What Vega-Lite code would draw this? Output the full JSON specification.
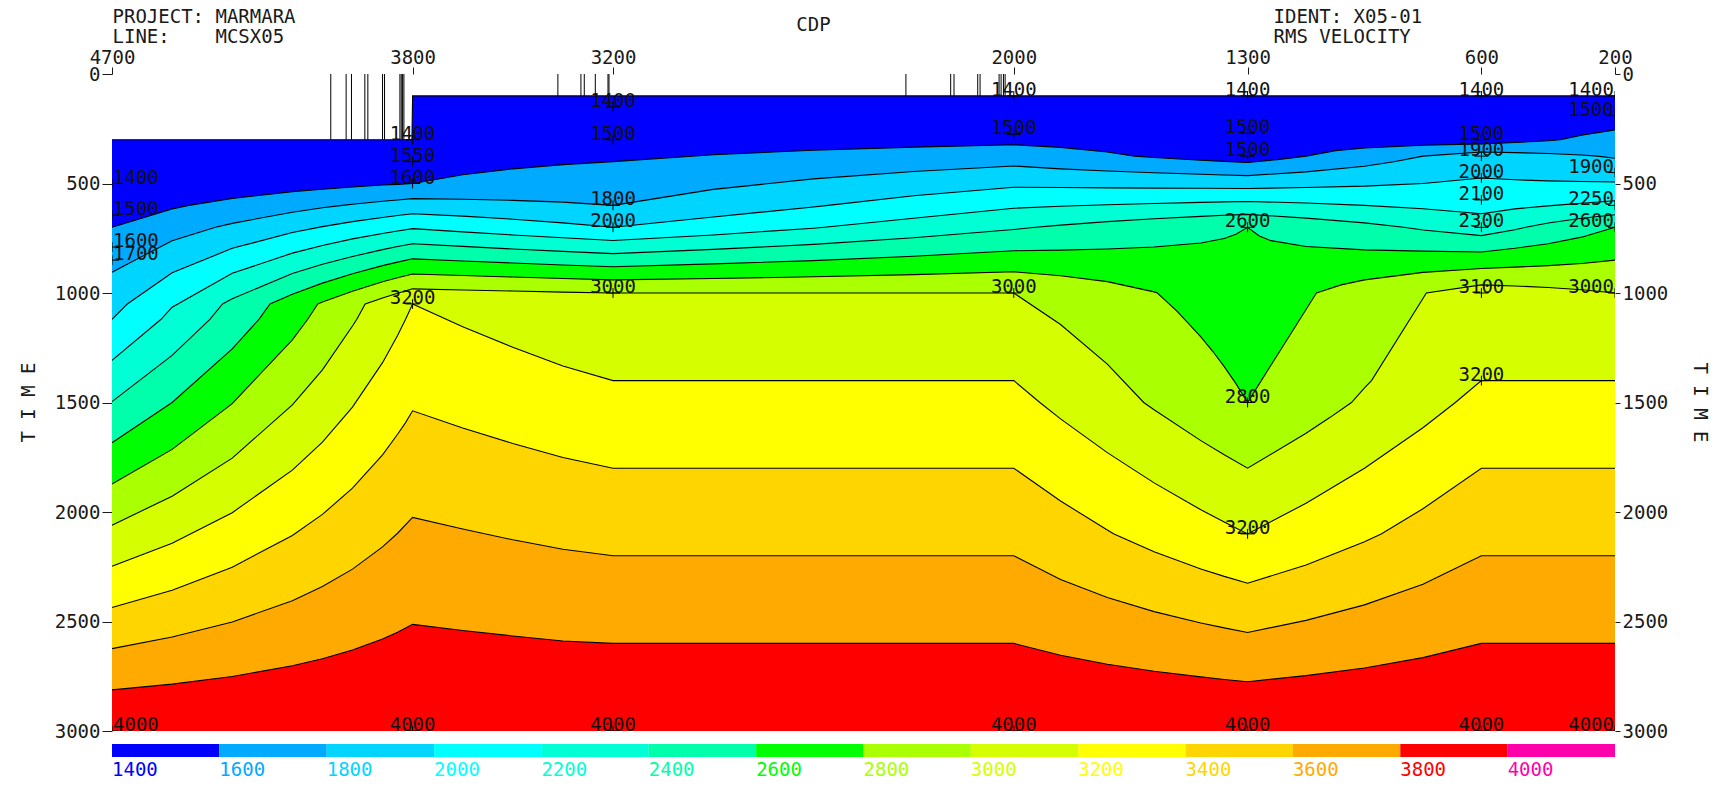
{
"$schema":"https://vega.github.io/schema/vega-lite/v6.json",
"width":1503,"height":657,
"autosize":"none",
"padding":{"left":112,"top":74,"right":116,"bottom":64},
"background":"white",
"config":{"view":{"stroke":null},
 "axis":{"labelFont":"DejaVu Sans Mono","labelFontSize":19,"labelColor":"#1a1a1a","titleFont":"DejaVu Sans Mono","titleFontSize":19,"titleFontWeight":"normal","titleColor":"#1a1a1a","tickColor":"#1a1a1a","grid":false,"domain":false},
 "text":{"font":"DejaVu Sans Mono","fontSize":19}},
"datasets":{
"contours":[
{"lvl":1400,"cdp":4700,"t":300},{"lvl":1400,"cdp":3802,"t":300},{"lvl":1400,"cdp":3800,"t":100},{"lvl":1400,"cdp":200,"t":100},
{"lvl":1600,"cdp":4700,"t":700},{"lvl":1600,"cdp":4520,"t":616},{"lvl":1600,"cdp":4470,"t":600},{"lvl":1600,"cdp":4340,"t":568},{"lvl":1600,"cdp":4160,"t":537},{"lvl":1600,"cdp":4070,"t":526},{"lvl":1600,"cdp":3980,"t":516},{"lvl":1600,"cdp":3890,"t":507},{"lvl":1600,"cdp":3845,"t":504},{"lvl":1600,"cdp":3800,"t":500},{"lvl":1600,"cdp":3650,"t":460},{"lvl":1600,"cdp":3500,"t":433},{"lvl":1600,"cdp":3350,"t":414},{"lvl":1600,"cdp":3200,"t":400},{"lvl":1600,"cdp":2900,"t":369},{"lvl":1600,"cdp":2600,"t":348},{"lvl":1600,"cdp":2300,"t":334},{"lvl":1600,"cdp":2000,"t":323},{"lvl":1600,"cdp":1860,"t":335},{"lvl":1600,"cdp":1720,"t":356},{"lvl":1600,"cdp":1638,"t":375},{"lvl":1600,"cdp":1580,"t":381},{"lvl":1600,"cdp":1440,"t":394},{"lvl":1600,"cdp":1370,"t":399},{"lvl":1600,"cdp":1300,"t":404},{"lvl":1600,"cdp":1212,"t":391},{"lvl":1600,"cdp":1125,"t":375},{"lvl":1600,"cdp":1037,"t":350},{"lvl":1600,"cdp":950,"t":338},{"lvl":1600,"cdp":775,"t":325},{"lvl":1600,"cdp":600,"t":319},{"lvl":1600,"cdp":500,"t":313},{"lvl":1600,"cdp":400,"t":305},{"lvl":1600,"cdp":364,"t":300},{"lvl":1600,"cdp":300,"t":279},{"lvl":1600,"cdp":200,"t":255},
{"lvl":1800,"cdp":4700,"t":905},{"lvl":1800,"cdp":4520,"t":761},{"lvl":1800,"cdp":4390,"t":700},{"lvl":1800,"cdp":4340,"t":682},{"lvl":1800,"cdp":4160,"t":631},{"lvl":1800,"cdp":4070,"t":611},{"lvl":1800,"cdp":4010,"t":600},{"lvl":1800,"cdp":3980,"t":595},{"lvl":1800,"cdp":3890,"t":581},{"lvl":1800,"cdp":3845,"t":575},{"lvl":1800,"cdp":3800,"t":569},{"lvl":1800,"cdp":3650,"t":572},{"lvl":1800,"cdp":3500,"t":577},{"lvl":1800,"cdp":3350,"t":585},{"lvl":1800,"cdp":3200,"t":600},{"lvl":1800,"cdp":2900,"t":527},{"lvl":1800,"cdp":2600,"t":479},{"lvl":1800,"cdp":2300,"t":445},{"lvl":1800,"cdp":2000,"t":420},{"lvl":1800,"cdp":1860,"t":433},{"lvl":1800,"cdp":1720,"t":443},{"lvl":1800,"cdp":1580,"t":451},{"lvl":1800,"cdp":1440,"t":458},{"lvl":1800,"cdp":1370,"t":461},{"lvl":1800,"cdp":1300,"t":464},{"lvl":1800,"cdp":1125,"t":447},{"lvl":1800,"cdp":950,"t":421},{"lvl":1800,"cdp":862,"t":401},{"lvl":1800,"cdp":775,"t":375},{"lvl":1800,"cdp":600,"t":356},{"lvl":1800,"cdp":500,"t":359},{"lvl":1800,"cdp":400,"t":363},{"lvl":1800,"cdp":300,"t":370},{"lvl":1800,"cdp":253,"t":375},{"lvl":1800,"cdp":200,"t":385},
{"lvl":2000,"cdp":4700,"t":1120},{"lvl":2000,"cdp":4654,"t":1050},{"lvl":2000,"cdp":4520,"t":908},{"lvl":2000,"cdp":4340,"t":796},{"lvl":2000,"cdp":4160,"t":724},{"lvl":2000,"cdp":4070,"t":697},{"lvl":2000,"cdp":3980,"t":674},{"lvl":2000,"cdp":3890,"t":655},{"lvl":2000,"cdp":3845,"t":646},{"lvl":2000,"cdp":3800,"t":638},{"lvl":2000,"cdp":3650,"t":649},{"lvl":2000,"cdp":3500,"t":663},{"lvl":2000,"cdp":3350,"t":680},{"lvl":2000,"cdp":3200,"t":700},{"lvl":2000,"cdp":2900,"t":653},{"lvl":2000,"cdp":2600,"t":607},{"lvl":2000,"cdp":2556,"t":600},{"lvl":2000,"cdp":2300,"t":556},{"lvl":2000,"cdp":2000,"t":517},{"lvl":2000,"cdp":1860,"t":518},{"lvl":2000,"cdp":1720,"t":520},{"lvl":2000,"cdp":1580,"t":521},{"lvl":2000,"cdp":1440,"t":522},{"lvl":2000,"cdp":1300,"t":523},{"lvl":2000,"cdp":1125,"t":518},{"lvl":2000,"cdp":950,"t":512},{"lvl":2000,"cdp":775,"t":500},{"lvl":2000,"cdp":600,"t":475},{"lvl":2000,"cdp":500,"t":483},{"lvl":2000,"cdp":400,"t":488},{"lvl":2000,"cdp":300,"t":491},{"lvl":2000,"cdp":200,"t":493},
{"lvl":2200,"cdp":4700,"t":1308},{"lvl":2200,"cdp":4553,"t":1120},{"lvl":2200,"cdp":4520,"t":1065},{"lvl":2200,"cdp":4340,"t":910},{"lvl":2200,"cdp":4160,"t":818},{"lvl":2200,"cdp":4070,"t":783},{"lvl":2200,"cdp":3980,"t":753},{"lvl":2200,"cdp":3890,"t":728},{"lvl":2200,"cdp":3845,"t":717},{"lvl":2200,"cdp":3800,"t":706},{"lvl":2200,"cdp":3650,"t":721},{"lvl":2200,"cdp":3500,"t":735},{"lvl":2200,"cdp":3350,"t":748},{"lvl":2200,"cdp":3200,"t":760},{"lvl":2200,"cdp":2900,"t":735},{"lvl":2200,"cdp":2600,"t":704},{"lvl":2200,"cdp":2567,"t":700},{"lvl":2200,"cdp":2300,"t":659},{"lvl":2200,"cdp":2000,"t":613},{"lvl":2200,"cdp":1860,"t":604},{"lvl":2200,"cdp":1720,"t":597},{"lvl":2200,"cdp":1580,"t":591},{"lvl":2200,"cdp":1440,"t":586},{"lvl":2200,"cdp":1370,"t":584},{"lvl":2200,"cdp":1300,"t":582},{"lvl":2200,"cdp":1125,"t":589},{"lvl":2200,"cdp":950,"t":600},{"lvl":2200,"cdp":775,"t":615},{"lvl":2200,"cdp":600,"t":638},{"lvl":2200,"cdp":500,"t":616},{"lvl":2200,"cdp":400,"t":602},{"lvl":2200,"cdp":382,"t":600},{"lvl":2200,"cdp":300,"t":590},{"lvl":2200,"cdp":200,"t":579},
{"lvl":2400,"cdp":4700,"t":1496},{"lvl":2400,"cdp":4520,"t":1285},{"lvl":2400,"cdp":4407,"t":1120},{"lvl":2400,"cdp":4369,"t":1050},{"lvl":2400,"cdp":4340,"t":1026},{"lvl":2400,"cdp":4160,"t":911},{"lvl":2400,"cdp":4070,"t":869},{"lvl":2400,"cdp":3980,"t":833},{"lvl":2400,"cdp":3890,"t":802},{"lvl":2400,"cdp":3845,"t":788},{"lvl":2400,"cdp":3800,"t":775},{"lvl":2400,"cdp":3650,"t":787},{"lvl":2400,"cdp":3500,"t":799},{"lvl":2400,"cdp":3350,"t":810},{"lvl":2400,"cdp":3200,"t":820},{"lvl":2400,"cdp":2900,"t":801},{"lvl":2400,"cdp":2600,"t":778},{"lvl":2400,"cdp":2300,"t":748},{"lvl":2400,"cdp":2000,"t":710},{"lvl":2400,"cdp":1934,"t":700},{"lvl":2400,"cdp":1860,"t":690},{"lvl":2400,"cdp":1720,"t":674},{"lvl":2400,"cdp":1580,"t":661},{"lvl":2400,"cdp":1440,"t":650},{"lvl":2400,"cdp":1370,"t":645},{"lvl":2400,"cdp":1300,"t":641},{"lvl":2400,"cdp":1125,"t":658},{"lvl":2400,"cdp":950,"t":680},{"lvl":2400,"cdp":833,"t":700},{"lvl":2400,"cdp":775,"t":712},{"lvl":2400,"cdp":600,"t":738},{"lvl":2400,"cdp":500,"t":711},{"lvl":2400,"cdp":467,"t":700},{"lvl":2400,"cdp":400,"t":680},{"lvl":2400,"cdp":300,"t":659},{"lvl":2400,"cdp":200,"t":643},
{"lvl":2600,"cdp":4700,"t":1684},{"lvl":2600,"cdp":4520,"t":1500},{"lvl":2600,"cdp":4340,"t":1255},{"lvl":2600,"cdp":4260,"t":1120},{"lvl":2600,"cdp":4227,"t":1050},{"lvl":2600,"cdp":4160,"t":1006},{"lvl":2600,"cdp":4070,"t":955},{"lvl":2600,"cdp":3980,"t":912},{"lvl":2600,"cdp":3890,"t":875},{"lvl":2600,"cdp":3845,"t":859},{"lvl":2600,"cdp":3800,"t":844},{"lvl":2600,"cdp":3650,"t":854},{"lvl":2600,"cdp":3500,"t":863},{"lvl":2600,"cdp":3350,"t":872},{"lvl":2600,"cdp":3200,"t":880},{"lvl":2600,"cdp":2900,"t":867},{"lvl":2600,"cdp":2600,"t":852},{"lvl":2600,"cdp":2300,"t":832},{"lvl":2600,"cdp":2000,"t":807},{"lvl":2600,"cdp":1860,"t":804},{"lvl":2600,"cdp":1720,"t":799},{"lvl":2600,"cdp":1580,"t":790},{"lvl":2600,"cdp":1440,"t":772},{"lvl":2600,"cdp":1370,"t":751},{"lvl":2600,"cdp":1335,"t":732},{"lvl":2600,"cdp":1300,"t":700},{"lvl":2600,"cdp":1265,"t":740},{"lvl":2600,"cdp":1230,"t":761},{"lvl":2600,"cdp":1125,"t":788},{"lvl":2600,"cdp":950,"t":803},{"lvl":2600,"cdp":775,"t":809},{"lvl":2600,"cdp":600,"t":813},{"lvl":2600,"cdp":500,"t":796},{"lvl":2600,"cdp":400,"t":775},{"lvl":2600,"cdp":300,"t":745},{"lvl":2600,"cdp":200,"t":700},
{"lvl":2800,"cdp":4700,"t":1872},{"lvl":2800,"cdp":4520,"t":1714},{"lvl":2800,"cdp":4340,"t":1505},{"lvl":2800,"cdp":4160,"t":1214},{"lvl":2800,"cdp":4114,"t":1120},{"lvl":2800,"cdp":4084,"t":1050},{"lvl":2800,"cdp":4070,"t":1041},{"lvl":2800,"cdp":3980,"t":992},{"lvl":2800,"cdp":3890,"t":949},{"lvl":2800,"cdp":3845,"t":930},{"lvl":2800,"cdp":3800,"t":913},{"lvl":2800,"cdp":3650,"t":920},{"lvl":2800,"cdp":3500,"t":927},{"lvl":2800,"cdp":3350,"t":934},{"lvl":2800,"cdp":3200,"t":940},{"lvl":2800,"cdp":2900,"t":934},{"lvl":2800,"cdp":2600,"t":926},{"lvl":2800,"cdp":2300,"t":916},{"lvl":2800,"cdp":2000,"t":903},{"lvl":2800,"cdp":1860,"t":921},{"lvl":2800,"cdp":1720,"t":948},{"lvl":2800,"cdp":1580,"t":995},{"lvl":2800,"cdp":1570,"t":1000},{"lvl":2800,"cdp":1510,"t":1085},{"lvl":2800,"cdp":1440,"t":1200},{"lvl":2800,"cdp":1405,"t":1265},{"lvl":2800,"cdp":1370,"t":1336},{"lvl":2800,"cdp":1335,"t":1414},{"lvl":2800,"cdp":1300,"t":1500},{"lvl":2800,"cdp":1259,"t":1400},{"lvl":2800,"cdp":1125,"t":1075},{"lvl":2800,"cdp":1094,"t":1000},{"lvl":2800,"cdp":1020,"t":963},{"lvl":2800,"cdp":950,"t":940},{"lvl":2800,"cdp":775,"t":906},{"lvl":2800,"cdp":600,"t":888},{"lvl":2800,"cdp":500,"t":882},{"lvl":2800,"cdp":400,"t":875},{"lvl":2800,"cdp":300,"t":865},{"lvl":2800,"cdp":200,"t":850},
{"lvl":3000,"cdp":4700,"t":2060},{"lvl":3000,"cdp":4520,"t":1928},{"lvl":3000,"cdp":4340,"t":1754},{"lvl":3000,"cdp":4160,"t":1511},{"lvl":3000,"cdp":4070,"t":1351},{"lvl":3000,"cdp":3980,"t":1151},{"lvl":3000,"cdp":3967,"t":1120},{"lvl":3000,"cdp":3942,"t":1050},{"lvl":3000,"cdp":3890,"t":1023},{"lvl":3000,"cdp":3845,"t":1001},{"lvl":3000,"cdp":3800,"t":981},{"lvl":3000,"cdp":3650,"t":986},{"lvl":3000,"cdp":3500,"t":991},{"lvl":3000,"cdp":3350,"t":996},{"lvl":3000,"cdp":3200,"t":1000},{"lvl":3000,"cdp":2000,"t":1000},{"lvl":3000,"cdp":1860,"t":1144},{"lvl":3000,"cdp":1720,"t":1325},{"lvl":3000,"cdp":1611,"t":1500},{"lvl":3000,"cdp":1580,"t":1533},{"lvl":3000,"cdp":1440,"t":1674},{"lvl":3000,"cdp":1370,"t":1739},{"lvl":3000,"cdp":1300,"t":1800},{"lvl":3000,"cdp":1125,"t":1640},{"lvl":3000,"cdp":1055,"t":1570},{"lvl":3000,"cdp":989,"t":1500},{"lvl":3000,"cdp":950,"t":1433},{"lvl":3000,"cdp":929,"t":1400},{"lvl":3000,"cdp":775,"t":1025},{"lvl":3000,"cdp":765,"t":1000},{"lvl":3000,"cdp":600,"t":963},{"lvl":3000,"cdp":500,"t":968},{"lvl":3000,"cdp":400,"t":975},{"lvl":3000,"cdp":300,"t":985},{"lvl":3000,"cdp":200,"t":1000},
{"lvl":3200,"cdp":4700,"t":2248},{"lvl":3200,"cdp":4520,"t":2143},{"lvl":3200,"cdp":4340,"t":2003},{"lvl":3200,"cdp":4160,"t":1809},{"lvl":3200,"cdp":4070,"t":1681},{"lvl":3200,"cdp":3980,"t":1521},{"lvl":3200,"cdp":3890,"t":1318},{"lvl":3200,"cdp":3845,"t":1194},{"lvl":3200,"cdp":3821,"t":1120},{"lvl":3200,"cdp":3800,"t":1050},{"lvl":3200,"cdp":3650,"t":1154},{"lvl":3200,"cdp":3500,"t":1248},{"lvl":3200,"cdp":3350,"t":1333},{"lvl":3200,"cdp":3200,"t":1400},{"lvl":3200,"cdp":2000,"t":1400},{"lvl":3200,"cdp":1922,"t":1500},{"lvl":3200,"cdp":1860,"t":1575},{"lvl":3200,"cdp":1720,"t":1729},{"lvl":3200,"cdp":1580,"t":1867},{"lvl":3200,"cdp":1440,"t":1990},{"lvl":3200,"cdp":1370,"t":2046},{"lvl":3200,"cdp":1300,"t":2100},{"lvl":3200,"cdp":1125,"t":1960},{"lvl":3200,"cdp":950,"t":1800},{"lvl":3200,"cdp":775,"t":1615},{"lvl":3200,"cdp":678,"t":1500},{"lvl":3200,"cdp":600,"t":1400},{"lvl":3200,"cdp":200,"t":1400},
{"lvl":3400,"cdp":4700,"t":2436},{"lvl":3400,"cdp":4520,"t":2357},{"lvl":3400,"cdp":4340,"t":2252},{"lvl":3400,"cdp":4160,"t":2107},{"lvl":3400,"cdp":4070,"t":2011},{"lvl":3400,"cdp":3980,"t":1891},{"lvl":3400,"cdp":3890,"t":1739},{"lvl":3400,"cdp":3845,"t":1645},{"lvl":3400,"cdp":3822,"t":1594},{"lvl":3400,"cdp":3800,"t":1538},{"lvl":3400,"cdp":3650,"t":1616},{"lvl":3400,"cdp":3500,"t":1687},{"lvl":3400,"cdp":3350,"t":1751},{"lvl":3400,"cdp":3200,"t":1800},{"lvl":3400,"cdp":2000,"t":1800},{"lvl":3400,"cdp":1860,"t":1950},{"lvl":3400,"cdp":1720,"t":2082},{"lvl":3400,"cdp":1700,"t":2100},{"lvl":3400,"cdp":1580,"t":2182},{"lvl":3400,"cdp":1440,"t":2260},{"lvl":3400,"cdp":1370,"t":2294},{"lvl":3400,"cdp":1300,"t":2325},{"lvl":3400,"cdp":1125,"t":2242},{"lvl":3400,"cdp":950,"t":2136},{"lvl":3400,"cdp":900,"t":2100},{"lvl":3400,"cdp":775,"t":1985},{"lvl":3400,"cdp":600,"t":1800},{"lvl":3400,"cdp":200,"t":1800},
{"lvl":3600,"cdp":4700,"t":2624},{"lvl":3600,"cdp":4520,"t":2571},{"lvl":3600,"cdp":4340,"t":2502},{"lvl":3600,"cdp":4160,"t":2405},{"lvl":3600,"cdp":4070,"t":2340},{"lvl":3600,"cdp":3980,"t":2261},{"lvl":3600,"cdp":3890,"t":2159},{"lvl":3600,"cdp":3845,"t":2097},{"lvl":3600,"cdp":3800,"t":2025},{"lvl":3600,"cdp":3650,"t":2078},{"lvl":3600,"cdp":3500,"t":2127},{"lvl":3600,"cdp":3350,"t":2170},{"lvl":3600,"cdp":3200,"t":2200},{"lvl":3600,"cdp":2000,"t":2200},{"lvl":3600,"cdp":1860,"t":2308},{"lvl":3600,"cdp":1720,"t":2390},{"lvl":3600,"cdp":1580,"t":2455},{"lvl":3600,"cdp":1440,"t":2507},{"lvl":3600,"cdp":1370,"t":2529},{"lvl":3600,"cdp":1300,"t":2550},{"lvl":3600,"cdp":1125,"t":2495},{"lvl":3600,"cdp":950,"t":2424},{"lvl":3600,"cdp":775,"t":2330},{"lvl":3600,"cdp":600,"t":2200},{"lvl":3600,"cdp":200,"t":2200},
{"lvl":3800,"cdp":4700,"t":2812},{"lvl":3800,"cdp":4520,"t":2786},{"lvl":3800,"cdp":4340,"t":2751},{"lvl":3800,"cdp":4160,"t":2702},{"lvl":3800,"cdp":4070,"t":2670},{"lvl":3800,"cdp":3980,"t":2630},{"lvl":3800,"cdp":3890,"t":2580},{"lvl":3800,"cdp":3845,"t":2549},{"lvl":3800,"cdp":3800,"t":2513},{"lvl":3800,"cdp":3650,"t":2541},{"lvl":3800,"cdp":3500,"t":2566},{"lvl":3800,"cdp":3350,"t":2589},{"lvl":3800,"cdp":3200,"t":2600},{"lvl":3800,"cdp":2000,"t":2600},{"lvl":3800,"cdp":1860,"t":2654},{"lvl":3800,"cdp":1720,"t":2695},{"lvl":3800,"cdp":1580,"t":2727},{"lvl":3800,"cdp":1440,"t":2753},{"lvl":3800,"cdp":1370,"t":2765},{"lvl":3800,"cdp":1300,"t":2775},{"lvl":3800,"cdp":1125,"t":2747},{"lvl":3800,"cdp":950,"t":2712},{"lvl":3800,"cdp":775,"t":2665},{"lvl":3800,"cdp":600,"t":2600},{"lvl":3800,"cdp":200,"t":2600}
],
"picks":[
{"cdp":4700,"t":500,"v":1400},{"cdp":4700,"t":645,"v":1500},{"cdp":4700,"t":790,"v":1600},{"cdp":4700,"t":850,"v":1700},{"cdp":4700,"t":3000,"v":4000},
{"cdp":3800,"t":300,"v":1400},{"cdp":3800,"t":400,"v":1550},{"cdp":3800,"t":500,"v":1600},{"cdp":3800,"t":1050,"v":3200},{"cdp":3800,"t":3000,"v":4000},
{"cdp":3200,"t":150,"v":1400},{"cdp":3200,"t":300,"v":1500},{"cdp":3200,"t":600,"v":1800},{"cdp":3200,"t":700,"v":2000},{"cdp":3200,"t":1000,"v":3000},{"cdp":3200,"t":3000,"v":4000},
{"cdp":2000,"t":100,"v":1400},{"cdp":2000,"t":275,"v":1500},{"cdp":2000,"t":1000,"v":3000},{"cdp":2000,"t":3000,"v":4000},
{"cdp":1300,"t":100,"v":1400},{"cdp":1300,"t":270,"v":1500},{"cdp":1300,"t":375,"v":1500},{"cdp":1300,"t":700,"v":2600},{"cdp":1300,"t":1500,"v":2800},{"cdp":1300,"t":2100,"v":3200},{"cdp":1300,"t":3000,"v":4000},
{"cdp":600,"t":100,"v":1400},{"cdp":600,"t":300,"v":1500},{"cdp":600,"t":375,"v":1900},{"cdp":600,"t":475,"v":2000},{"cdp":600,"t":575,"v":2100},{"cdp":600,"t":700,"v":2300},{"cdp":600,"t":1000,"v":3100},{"cdp":600,"t":1400,"v":3200},{"cdp":600,"t":3000,"v":4000},
{"cdp":200,"t":100,"v":1400},{"cdp":200,"t":190,"v":1500},{"cdp":200,"t":450,"v":1900},{"cdp":200,"t":600,"v":2250},{"cdp":200,"t":700,"v":2600},{"cdp":200,"t":1000,"v":3000},{"cdp":200,"t":3000,"v":4000}
],
"shots":[
{"cdp":4045,"tend":300},{"cdp":3999,"tend":300},{"cdp":3983,"tend":300},{"cdp":3943,"tend":300},{"cdp":3934,"tend":300},{"cdp":3890,"tend":300},{"cdp":3884,"tend":300},{"cdp":3838,"tend":300},{"cdp":3834,"tend":300},{"cdp":3830,"tend":300},{"cdp":3826,"tend":300},
{"cdp":3365,"tend":100},{"cdp":3296,"tend":100},{"cdp":3286,"tend":100},{"cdp":3253,"tend":100},{"cdp":3215,"tend":100},{"cdp":3212,"tend":100},{"cdp":2323,"tend":100},{"cdp":2189,"tend":100},{"cdp":2179,"tend":100},{"cdp":2108,"tend":100},{"cdp":2101,"tend":100},{"cdp":2044,"tend":100},{"cdp":2038,"tend":100},{"cdp":2031,"tend":100},{"cdp":2026,"tend":100}
],
"legend":[{"lvl":1400},{"lvl":1600},{"lvl":1800},{"lvl":2000},{"lvl":2200},{"lvl":2400},{"lvl":2600},{"lvl":2800},{"lvl":3000},{"lvl":3200},{"lvl":3400},{"lvl":3600},{"lvl":3800},{"lvl":4000}]
},
"resolve":{"scale":{"x":"independent","y":"independent"}},
"layer":[
{
"data":{"name":"contours"},
"resolve":{"axis":{"x":"independent","y":"independent"}},
"encoding":{
 "x":{"field":"cdp","type":"quantitative","scale":{"domain":[4700,200],"nice":false,"zero":false},"axis":null},
 "y":{"field":"t","type":"quantitative","scale":{"domain":[0,3000],"reverse":true,"nice":false,"zero":false},"stack":null,"axis":null}
},
"layer":[
{"transform":[{"filter":"datum.lvl == 1400"}],"mark":{"type":"area"},
 "encoding":{
  "x":{"field":"cdp","type":"quantitative","scale":{"domain":[4700,200],"nice":false,"zero":false},
   "axis":{"orient":"top","values":[4700,3800,3200,2000,1300,600,200],"format":"d","tickSize":7,"labelPadding":0,"labelFlush":false,"labelOverlap":false,"labelBound":false,"title":"CDP","titleX":701,"titleY":-50,"titleAlign":"center","titleBaseline":"middle","titleAngle":0}},
  "y":{"field":"t","type":"quantitative","scale":{"domain":[0,3000],"reverse":true,"nice":false,"zero":false},"stack":null,
   "axis":{"orient":"left","values":[0,500,1000,1500,2000,2500,3000],"format":"d","tickSize":10,"labelPadding":2,"labelFlush":false,"labelOverlap":false,"title":"T I M E","titleX":-84,"titleY":328,"titleAngle":270,"titleAlign":"center","titleBaseline":"middle"}},
  "y2":{"datum":3000},
  "color":{"field":"lvl","type":"ordinal","scale":{"domain":[1400,1600,1800,2000,2200,2400,2600,2800,3000,3200,3400,3600,3800,4000],"range":["#0000ff","#00aaff","#00d5ff","#00ffff","#00ffd5","#00ffaa","#00ff00","#aaff00","#d5ff00","#ffff00","#ffd500","#ffaa00","#ff0000","#ff00aa"]},"legend":null}}},
{"transform":[{"filter":"datum.lvl == 1600"}],"mark":{"type":"area"},"encoding":{"y2":{"datum":3000},"color":{"field":"lvl","type":"ordinal","legend":null}}},
{"transform":[{"filter":"datum.lvl == 1800"}],"mark":{"type":"area"},"encoding":{"y2":{"datum":3000},"color":{"field":"lvl","type":"ordinal","legend":null}}},
{"transform":[{"filter":"datum.lvl == 2000"}],"mark":{"type":"area"},"encoding":{"y2":{"datum":3000},"color":{"field":"lvl","type":"ordinal","legend":null}}},
{"transform":[{"filter":"datum.lvl == 2200"}],"mark":{"type":"area"},"encoding":{"y2":{"datum":3000},"color":{"field":"lvl","type":"ordinal","legend":null}}},
{"transform":[{"filter":"datum.lvl == 2400"}],"mark":{"type":"area"},"encoding":{"y2":{"datum":3000},"color":{"field":"lvl","type":"ordinal","legend":null}}},
{"transform":[{"filter":"datum.lvl == 2600"}],"mark":{"type":"area"},"encoding":{"y2":{"datum":3000},"color":{"field":"lvl","type":"ordinal","legend":null}}},
{"transform":[{"filter":"datum.lvl == 2800"}],"mark":{"type":"area"},"encoding":{"y2":{"datum":3000},"color":{"field":"lvl","type":"ordinal","legend":null}}},
{"transform":[{"filter":"datum.lvl == 3000"}],"mark":{"type":"area"},"encoding":{"y2":{"datum":3000},"color":{"field":"lvl","type":"ordinal","legend":null}}},
{"transform":[{"filter":"datum.lvl == 3200"}],"mark":{"type":"area"},"encoding":{"y2":{"datum":3000},"color":{"field":"lvl","type":"ordinal","legend":null}}},
{"transform":[{"filter":"datum.lvl == 3400"}],"mark":{"type":"area"},"encoding":{"y2":{"datum":3000},"color":{"field":"lvl","type":"ordinal","legend":null}}},
{"transform":[{"filter":"datum.lvl == 3600"}],"mark":{"type":"area"},"encoding":{"y2":{"datum":3000},"color":{"field":"lvl","type":"ordinal","legend":null}}},
{"transform":[{"filter":"datum.lvl == 3800"}],"mark":{"type":"area"},"encoding":{"y2":{"datum":3000},"color":{"field":"lvl","type":"ordinal","legend":null}}},
{"mark":{"type":"line","color":"#000000","strokeWidth":1.1},
 "encoding":{"detail":{"field":"lvl","type":"nominal"},
  "y":{"field":"t","type":"quantitative","scale":{"domain":[0,3000],"reverse":true,"nice":false,"zero":false},"stack":null,
   "axis":{"orient":"right","values":[0,500,1000,1500,2000,2500,3000],"format":"d","tickSize":5,"labelPadding":2,"labelFlush":false,"labelOverlap":false,"title":"T I M E","titleX":84,"titleY":328,"titleAngle":90,"titleAlign":"center","titleBaseline":"middle"}}}},
{"data":{"name":"shots"},"mark":{"type":"rule","color":"#000000","strokeWidth":1},
 "encoding":{
  "x":{"field":"cdp","type":"quantitative","scale":{"domain":[4700,200],"nice":false,"zero":false},
   "axis":{"orient":"top","labels":false,"ticks":false,"domain":false,"title":["PROJECT: MARMARA","LINE:\u00a0\u00a0\u00a0\u00a0MCSX05"],"titleX":0,"titleY":-67,"titleAlign":"left","titleBaseline":"top","titleLineHeight":20,"titleAngle":0}},
  "y":{"field":"tend","type":"quantitative","scale":{"domain":[0,3000],"reverse":true,"nice":false,"zero":false},"stack":null,"axis":null},
  "y2":{"datum":0}}},
{"data":{"name":"picks"},"transform":[{"filter":"datum.cdp == 4700"}],
 "mark":{"type":"text","align":"left","baseline":"alphabetic","dx":1,"color":"#111111"},
 "encoding":{"text":{"field":"v","type":"nominal"}}},
{"data":{"name":"picks"},"transform":[{"filter":"datum.cdp != 4700 && datum.cdp != 200"}],
 "mark":{"type":"text","align":"center","baseline":"alphabetic","color":"#111111"},
 "encoding":{"text":{"field":"v","type":"nominal"},
  "x":{"field":"cdp","type":"quantitative","scale":{"domain":[4700,200],"nice":false,"zero":false},
   "axis":{"orient":"top","labels":false,"ticks":false,"domain":false,"title":["IDENT: X05-01","RMS VELOCITY"],"titleX":1161,"titleY":-67,"titleAlign":"left","titleBaseline":"top","titleLineHeight":20,"titleAngle":0}}}},
{"data":{"name":"picks"},"transform":[{"filter":"datum.cdp == 200"}],
 "mark":{"type":"text","align":"right","baseline":"alphabetic","dx":-1,"color":"#111111"},
 "encoding":{"text":{"field":"v","type":"nominal"}}},
{"data":{"name":"picks"},
 "mark":{"type":"point","shape":"M-1,0H1M0,-0.7V0.7","size":196,"filled":false,"color":"#000000","strokeWidth":1,"opacity":1,"clip":true}},
{"data":{"values":[{}]},
 "mark":{"type":"rect","filled":false,"color":"#000000","strokeWidth":1},
 "encoding":{"x":{"datum":4700,"type":"quantitative","axis":null},"x2":{"datum":200},"y":{"datum":0,"type":"quantitative","axis":null},"y2":{"datum":3000}}}
]
},
{
"data":{"name":"legend"},
"encoding":{
 "x":{"field":"lvl","type":"ordinal","scale":{"type":"band","paddingInner":0,"paddingOuter":0},"axis":null},
 "color":{"field":"lvl","type":"ordinal","scale":{"domain":[1400,1600,1800,2000,2200,2400,2600,2800,3000,3200,3400,3600,3800,4000],"range":["#0000ff","#00aaff","#00d5ff","#00ffff","#00ffd5","#00ffaa","#00ff00","#aaff00","#d5ff00","#ffff00","#ffd500","#ffaa00","#ff0000","#ff00aa"]},"legend":null}
},
"layer":[
 {"mark":{"type":"rect"},
  "encoding":{"y":{"datum":0,"type":"quantitative","scale":{"domain":[0,1],"range":[670,683],"nice":false,"zero":false},"axis":null},"y2":{"datum":1}}},
 {"mark":{"type":"text","align":"left","baseline":"middle"},
  "encoding":{"x":{"field":"lvl","type":"ordinal","bandPosition":0,"axis":null},"y":{"datum":2,"type":"quantitative","axis":null},"text":{"field":"lvl","type":"nominal"}}}
]
}
]
}
